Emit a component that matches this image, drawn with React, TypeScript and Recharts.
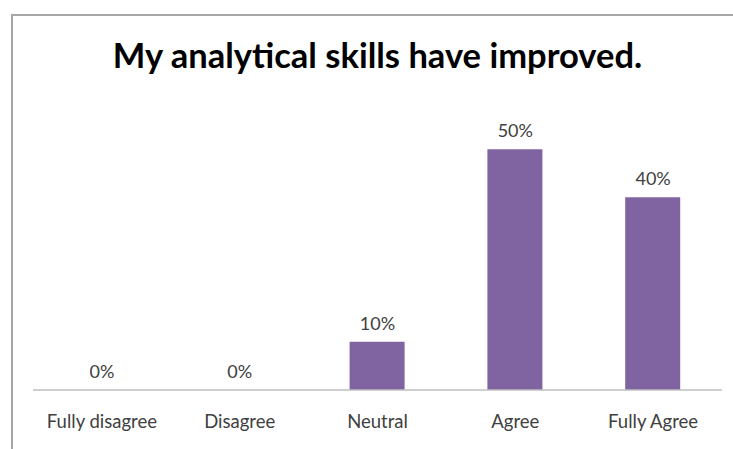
import React from "react";
import { ComposedChart, Bar, Line, XAxis, YAxis, LabelList } from "recharts";

// Categorías y porcentajes
const categories = ["Fully disagree", "Disagree", "Neutral", "Agree", "Fully Agree"];
const percents = [0, 0, 10, 50, 40];

const BAR_COLOR = "#8064A2";
const TEXT_COLOR = "#404040";
const FONT = "Lato, 'Open Sans', sans-serif";

const data = categories.map((name, i) => ({ name, value: percents[i] }));

export default function App() {
  return (
    <div style={{ position: "absolute", left: 0, top: 0, width: 733, height: 449, background: "#fff" }}>
      {/* marco del gráfico, solo se ven el borde superior e izquierdo */}
      <div
        style={{
          position: "absolute",
          left: 11,
          top: 14,
          width: 722,
          height: 435,
          borderTop: "2px solid #a6a6a6",
          borderLeft: "2px solid #a6a6a6",
          boxSizing: "border-box",
        }}
      />
      <div
        style={{
          position: "absolute",
          left: 33,
          width: 689,
          top: 33,
          textAlign: "center",
          fontFamily: FONT,
          fontWeight: 700,
          fontSize: 34.5,
          lineHeight: "44px",
          color: "#000",
        }}
      >
        My analytical skills have improved.
      </div>
      <div style={{ position: "absolute", left: 0, top: 0 }}>
        <ComposedChart
          width={733}
          height={449}
          data={data}
          margin={{ top: 101, right: 11, bottom: 29, left: 33 }}
        >
          <XAxis
            dataKey="name"
            height={30}
            tickLine={false}
            axisLine={{ stroke: "#bfbfbf", strokeWidth: 1.5 }}
            tickMargin={19}
            interval={0}
            tick={{ fontSize: 18.5, fill: TEXT_COLOR, fontFamily: FONT }}
          />
          <YAxis hide domain={[0, 60]} />
          <Bar dataKey="value" fill={BAR_COLOR} barSize={55} isAnimationActive={false} />
          {/* serie invisible para poner las etiquetas, también en las barras de 0% */}
          <Line
            dataKey="value"
            stroke="none"
            dot={false}
            activeDot={false}
            isAnimationActive={false}
          >
            <LabelList
              dataKey="value"
              position="top"
              offset={12}
              formatter={(v: any) => `${v}%`}
              style={{ fontSize: 18, fill: TEXT_COLOR, fontFamily: FONT }}
            />
          </Line>
        </ComposedChart>
      </div>
    </div>
  );
}
